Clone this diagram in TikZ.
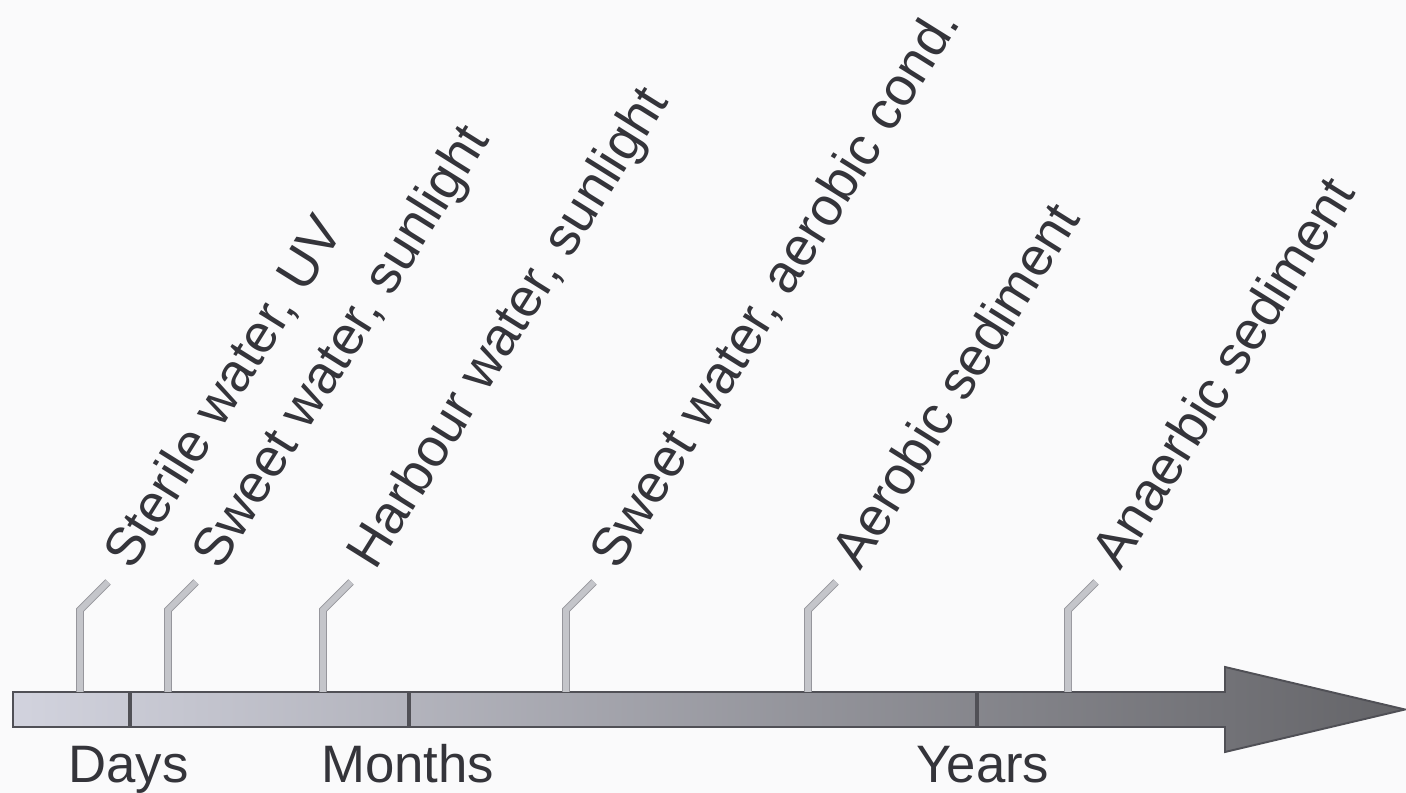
\documentclass[tikz,border=0pt]{standalone}
\usepackage{fontspec}
\setmainfont{Liberation Sans}
\definecolor{barL}{RGB}{210,211,222}
\definecolor{barR}{RGB}{100,100,104}
\definecolor{edgec}{RGB}{80,80,86}
\definecolor{stalkc}{RGB}{196,197,202}
\definecolor{stalke}{RGB}{150,150,156}
\definecolor{txtc}{RGB}{52,52,58}
\definecolor{bgc}{RGB}{250,250,251}
\begin{document}
\begin{tikzpicture}[x=0.02cm,y=0.02cm,
  stalk/.style={draw=stalke, line width=0.5pt, double=stalkc, double distance=3.4pt, line join=miter},
  divider/.style={draw=edgec, line width=1.8pt},
  lbl/.style={anchor=base west, inner sep=0pt, rotate=58, text=txtc, font=\fontsize{30.7}{36}\selectfont},
  axislbl/.style={anchor=base west, inner sep=0pt, text=txtc, font=\fontsize{30}{35}\selectfont}]
\fill[bgc] (0,0) rectangle (1406,793);
\useasboundingbox (0,0) rectangle (1406,793);
% time arrow
\coordinate (A0) at (13,101);
\coordinate (A1) at (1225,101);
\coordinate (A2) at (1225,126);
\coordinate (A3) at (1405,83.5);
\coordinate (A4) at (1225,41);
\coordinate (A5) at (1225,66);
\coordinate (A6) at (13,66);
\shade[left color=barL, right color=barR] (A0) -- (A1) -- (A2) -- (A3) -- (A4) -- (A5) -- (A6) -- cycle;
\draw[edgec, line width=1.1pt, line join=miter] (A0) -- (A1) -- (A2) -- (A3) -- (A4) -- (A5) -- (A6) -- cycle;
% dividers
\foreach \i/\x in {1/130,2/409,3/977}{
  \coordinate (dt\i) at (\x,101);
  \coordinate (db\i) at (\x,66);
  \draw[divider] (dt\i) -- (db\i);
}
% stalks and labels
\foreach \i/\x/\t in {1/80/{Sterile water, UV},2/168/{Sweet water, sunlight},3/323/{Harbour water, sunlight},4/566/{Sweet water, aerobic cond.},5/808/{Aerobic sediment},6/1068/{Anaerbic sediment}}{
  \coordinate (s\i) at (\x,101);
  \coordinate (k\i) at (\x,183);
  \coordinate (e\i) at (\x+28,211);
  \draw[stalk] (s\i) -- (k\i) -- (e\i);
  \node[lbl] (l\i) at (\x+52,221) {\t};
}
% time scale labels
\node[axislbl] (days) at (68,10) {Days};
\node[axislbl] (months) at (321,10) {Months};
\node[axislbl] (years) at (916,10) {Years};
\end{tikzpicture}
\end{document}
